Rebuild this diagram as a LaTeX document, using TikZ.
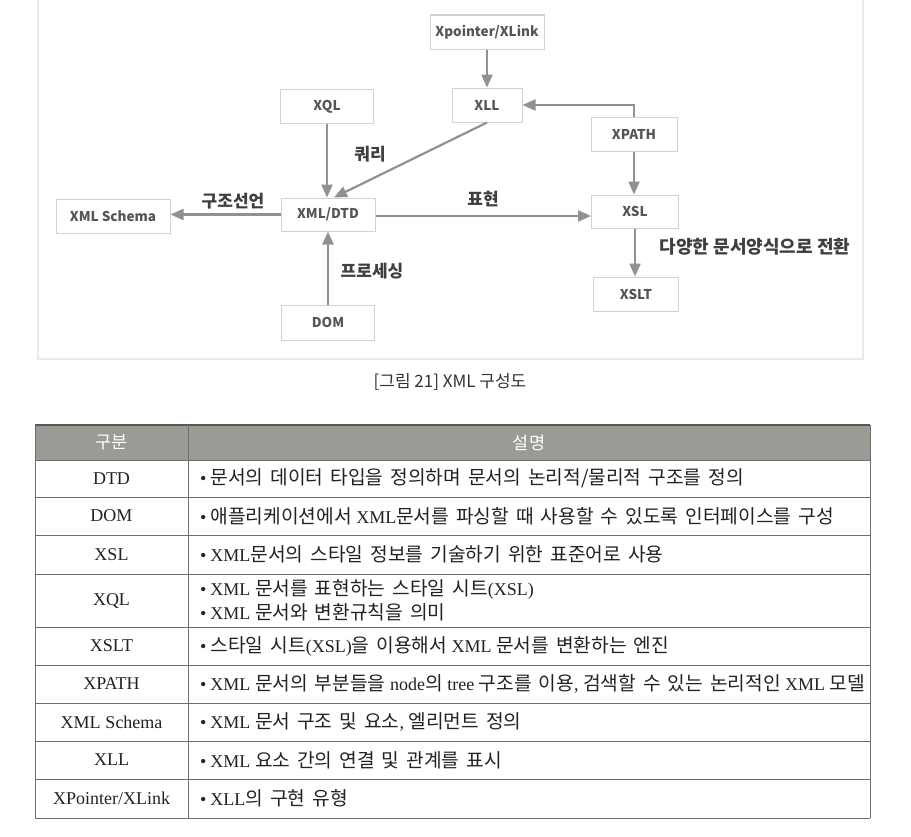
\documentclass[tikz,border=0pt]{standalone}
\usepackage{fontspec}
\setmainfont{Liberation Serif}
\newfontfamily\kr{Noto Sans CJK KR}
\usetikzlibrary{arrows.meta}
\definecolor{arrowc}{HTML}{8E948C}
\definecolor{boxline}{HTML}{D2D2D2}
\definecolor{boxtext}{HTML}{555555}
\definecolor{labtext}{HTML}{3F3F3F}
\definecolor{hdrfill}{HTML}{999C95}
\definecolor{gridc}{HTML}{6E6E6E}
\definecolor{framec}{HTML}{EAEAEA}
\definecolor{celltext}{HTML}{222222}
\newcommand\K[1]{{\kr\fontsize{19.2bp}{22bp}\selectfont\fontdimen2\font=7bp\relax #1}}
\newcommand\bul{•\hspace{4bp}}
\begin{document}
\begin{tikzpicture}[x=1bp,y=-1bp,
  box/.style={draw=boxline, line width=1bp, fill=white, inner sep=0pt,
    font=\kr\bfseries\fontsize{13.5bp}{16bp}\selectfont, text=boxtext, minimum height=34bp},
  arr/.style={draw=arrowc, line width=2.2bp, -{Triangle[width=11bp,length=13bp]}},
  lab/.style={font=\kr\bfseries\fontsize{17bp}{19bp}\selectfont, text=labtext, inner sep=0pt},
  cell/.style={font=\fontsize{18bp}{22bp}\selectfont, text=celltext, inner sep=0pt},
  desc/.style={cell, anchor=west},
  hdr/.style={font=\kr\fontsize{17.5bp}{19bp}\selectfont, text=white, inner sep=0pt},
  grid/.style={draw=gridc, line width=1bp}]
\useasboundingbox (0,0) rectangle (911,837);
\fill[white] (0,0) rectangle (911,837);
% diagram frame
\draw[framec, line width=1.2bp] (38,0) -- (38,359) -- (863,359) -- (863,0);
% boxes
\node[box, minimum width=114bp] (xlink) at (487,32) {Xpointer/XLink};
\node[box, minimum width=70bp] (xll) at (487,105) {XLL};
\node[box, minimum width=93bp] (xql) at (327,106.5) {XQL};
\node[box, minimum width=86bp] (xpath) at (634,134) {XPATH};
\node[box, minimum width=94bp, minimum height=33bp] (dtd) at (328,214.5) {XML/DTD};
\node[box, minimum width=114bp] (schema) at (113,216) {XML Schema};
\node[box, minimum width=87bp, minimum height=33bp] (xsl) at (635,211.5) {XSL};
\node[box, minimum width=85bp] (xslt) at (636,294) {XSLT};
\node[box, minimum width=93bp, minimum height=35bp] (dom) at (328,322.5) {DOM};
% arrows
\draw[arr] (xlink.south) -- (xll.north);
\draw[arr] (xpath.north) |- (xll.east);
\draw[arr] (xpath.south) -- (xpath.south |- xsl.north);
\draw[arr] (xsl.south) -- (xsl.south |- xslt.north);
\draw[arr] (xql.south) -- (xql.south |- dtd.north);
\draw[arr] (xll.south) -- ([xshift=6bp]dtd.north);
\draw[arr] (dom.north) -- (dom.north |- dtd.south);
\draw[arr] (dtd.west) -- (dtd.west -| schema.east);
\draw[arr] ([yshift=-1.5bp]dtd.east) -- ([yshift=-1.5bp]dtd.east -| xsl.west);
% labels
\node[lab] (lq) at (370,154) {쿼리};
\node[lab] (ls) at (233,201) {구조선언};
\node[lab] (lp) at (483,199) {표현};
\node[lab, font=\kr\bfseries\fontsize{18bp}{20bp}\selectfont] (lt) at (755,247) {다양한 문서양식으로 전환};
\node[lab] (lr) at (372,271) {프로세싱};
% caption
\node[font=\kr\fontsize{17bp}{19bp}\selectfont, text=black!80, inner sep=0pt] (cap) at (450,382) {[그림 21] XML 구성도};
% table
\fill[hdrfill] (35,425) rectangle (870,460);
\foreach \yy in {460,497,535,574,627,665,703,741,779,818}
  \draw[grid] (35,\yy) -- (870,\yy);
\draw[draw=gridc!80!black, line width=1.6bp] (35,425) -- (870,425);
\draw[grid] (35,425) -- (35,818);
\draw[grid] (188,425) -- (188,818);
\draw[grid] (870,425) -- (870,818);
\node[hdr] (h1) at (111.5,442.5) {구분};
\node[hdr] (h2) at (529,442.5) {설명};
\node[cell] (c1) at (111.5,478.5) {DTD};
\node[cell] (c2) at (111.5,516) {DOM};
\node[cell] (c3) at (111.5,554.5) {XSL};
\node[cell] (c4) at (111.5,600.5) {XQL};
\node[cell] (c5) at (111.5,646) {XSLT};
\node[cell] (c6) at (111.5,684) {XPATH};
\node[cell] (c7) at (111.5,722) {XML\hspace{5bp}Schema};
\node[cell] (c8) at (111.5,760) {XLL};
\node[cell] (c9) at (111.5,798.5) {XPointer/XLink};
\node[desc] (d1) at (200,478.5) {\bul\K{문서의 데이터 타입을 정의하며 문서의 논리적/물리적 구조를 정의}};
\node[desc] (d2) at (200,516) {\bul\K{애플리케이션에서} XML\K{문서를 파싱할 때 사용할 수 있도록 인터페이스를 구성}};
\node[desc] (d3) at (200,554.5) {\bul XML\K{문서의 스타일 정보를 기술하기 위한 표준어로 사용}};
\node[desc] (d4a) at (200,589) {\bul XML \K{문서를 표현하는 스타일 시트}(XSL)};
\node[desc] (d4b) at (200,612) {\bul XML \K{문서와 변환규칙을 의미}};
\node[desc] (d5) at (200,646) {\bul\K{스타일 시트}(XSL)\K{을 이용해서} XML \K{문서를 변환하는 엔진}};
\node[desc] (d6) at (200,684) {\bul XML \K{문서의 부분들을} node\K{의} tree \K{구조를 이용}, \K{검색할 수 있는 논리적인} XML \K{모델}};
\node[desc] (d7) at (200,722) {\bul XML \K{문서 구조 및 요소}, \K{엘리먼트 정의}};
\node[desc] (d8) at (200,760) {\bul XML \K{요소 간의 연결 및 관계를 표시}};
\node[desc] (d9) at (200,798.5) {\bul XLL\K{의 구현 유형}};
\end{tikzpicture}
\end{document}
